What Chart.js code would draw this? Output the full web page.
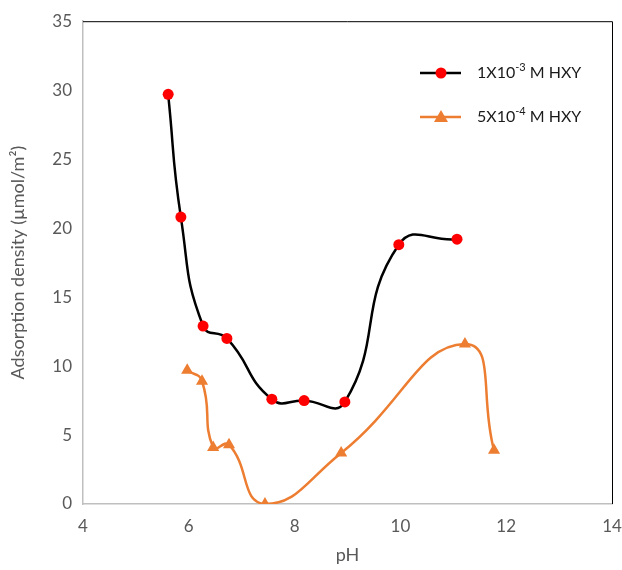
<!DOCTYPE html>
<html>
<head>
<meta charset="utf-8">
<script src="https://cdn.jsdelivr.net/npm/chart.js@4"></script>
<style>
  body { margin: 0; background: #fff; }
  #wrap { width: 622px; height: 570px; }
</style>
</head>
<body>
<div id="wrap"><canvas id="myChart" width="622" height="570"></canvas></div>
<script>
// datos
const phAlto = [5.61, 5.85, 6.27, 6.72, 7.57, 8.18, 8.95, 9.97, 11.07];
const adsAlto = [29.7, 20.8, 12.9, 12.0, 7.6, 7.5, 7.4, 18.8, 19.2];
const phBajo = [5.97, 6.25, 6.46, 6.76, 7.44, 8.88, 11.22, 11.77];
const adsBajo = [9.7, 8.9, 4.1, 4.3, 0.0, 3.7, 11.6, 3.9];
const xTicks = [4, 6, 8, 10, 12, 14];
const yTicks = [0, 5, 10, 15, 20, 25, 30, 35];

const fuente = 'Lato, "Open Sans", sans-serif';
const gris = '#595959';

function puntos(xs, ys) {
    return xs.map((x, i) => ({ x: x, y: ys[i] }));
}

// leyenda dentro del area, con superindice
const leyendaPlugin = {
    id: 'leyenda',
    afterDraw(chart) {
        const ctx = chart.ctx;
        const area = chart.chartArea;
        ctx.save();
        // borde negro arriba y derecha
        ctx.strokeStyle = '#000';
        ctx.lineWidth = 1;
        ctx.beginPath();
        ctx.moveTo(area.left, area.top + 0.5);
        ctx.lineTo(area.right + 0.5, area.top + 0.5);
        ctx.lineTo(area.right + 0.5, area.bottom);
        ctx.stroke();

        const items = [
            { y: 73, color: '#000', marker: '#ff0000', tri: false, a: '1X10', sup: '-3', b: ' M HXY' },
            { y: 117, color: '#ed7d31', marker: '#ed7d31', tri: true, a: '5X10', sup: '-4', b: ' M HXY' }
        ];
        items.forEach(it => {
            ctx.strokeStyle = it.color;
            ctx.lineWidth = 2.5;
            ctx.beginPath();
            ctx.moveTo(420, it.y);
            ctx.lineTo(461, it.y);
            ctx.stroke();
            ctx.fillStyle = it.marker;
            ctx.beginPath();
            if (it.tri) {
                ctx.moveTo(441, it.y - 7);
                ctx.lineTo(448, it.y + 5);
                ctx.lineTo(434, it.y + 5);
                ctx.closePath();
            } else {
                ctx.arc(441, it.y, 5.5, 0, Math.PI * 2);
            }
            ctx.fill();

            ctx.fillStyle = '#1a1a1a';
            ctx.textBaseline = 'middle';
            ctx.font = '16px ' + fuente;
            let x = 477;
            ctx.fillText(it.a, x, it.y);
            x += ctx.measureText(it.a).width;
            ctx.font = '11px ' + fuente;
            ctx.fillText(it.sup, x, it.y - 6);
            x += ctx.measureText(it.sup).width;
            ctx.font = '16px ' + fuente;
            ctx.fillText(it.b, x, it.y);
        });
        ctx.restore();
    }
};

const ctx = document.getElementById('myChart').getContext('2d');
const myChart = new Chart(ctx, {
    type: 'scatter',
    data: {
        datasets: [
            {
                label: '1X10-3 M HXY',
                data: puntos(phAlto, adsAlto),
                showLine: true,
                borderColor: '#000',
                borderWidth: 2.5,
                tension: 0.5,
                pointStyle: 'circle',
                pointRadius: 5.5,
                pointBackgroundColor: '#ff0000',
                pointBorderColor: '#ff0000',
                pointBorderWidth: 0
            },
            {
                label: '5X10-4 M HXY',
                data: puntos(phBajo, adsBajo),
                showLine: true,
                borderColor: '#ed7d31',
                borderWidth: 2.5,
                tension: 0.5,
                pointStyle: 'triangle',
                pointRadius: 7,
                pointBackgroundColor: '#ed7d31',
                pointBorderColor: '#ed7d31',
                pointBorderWidth: 0
            }
        ]
    },
    options: {
        responsive: false,
        animation: false,
        layout: { padding: { left: 3, right: 10, top: 18, bottom: 0 } },
        scales: {
            x: {
                type: 'linear',
                min: 4,
                max: 14,
                afterBuildTicks: (scale) => { scale.ticks = xTicks.map(v => ({ value: v })); },
                afterFit: (scale) => {
                    scale.height = 66;
                    scale.paddingLeft = 0;
                    scale.paddingRight = 0;
                },
                grid: { display: false, drawTicks: false },
                border: { display: true, color: '#bfbfbf', width: 1.5 },
                ticks: { color: gris, font: { family: fuente, size: 17 }, padding: 12 },
                title: { display: true, text: 'pH', color: gris, font: { family: fuente, size: 18 }, padding: { top: 14 } }
            },
            y: {
                min: 0,
                max: 35,
                afterBuildTicks: (scale) => { scale.ticks = yTicks.map(v => ({ value: v })); },
                afterFit: (scale) => { scale.width = 80; },
                grid: { display: false, drawTicks: false },
                border: { display: true, color: '#bfbfbf', width: 1.5 },
                ticks: { color: gris, font: { family: fuente, size: 17 }, padding: 11 },
                title: { display: true, text: 'Adsorption density (µmol/m²)', color: gris, font: { family: fuente, size: 18 }, padding: { bottom: 4 } }
            }
        },
        plugins: {
            legend: { display: false },
            tooltip: { enabled: false }
        }
    },
    plugins: [leyendaPlugin]
});
</script>
</body>
</html>
